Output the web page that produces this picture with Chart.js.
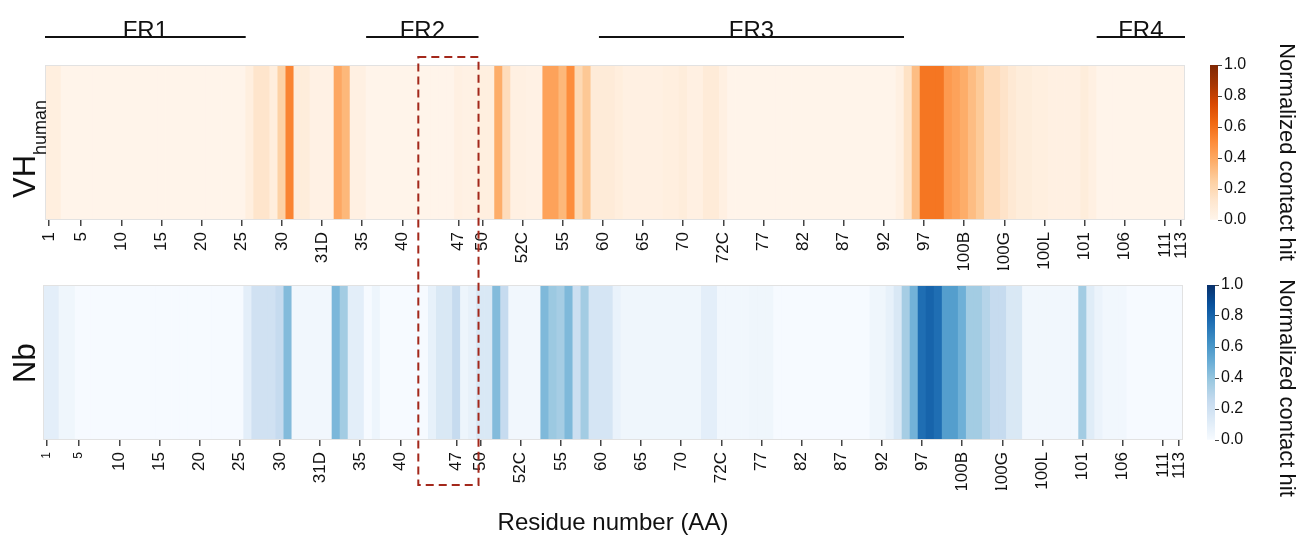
<!DOCTYPE html>
<html>
<head>
<meta charset="utf-8">
<script src="https://cdn.jsdelivr.net/npm/chart.js@4.4.0/dist/chart.umd.min.js"></script>
<style>
  body { margin: 0; background: #fff; }
  #page { position: relative; width: 1300px; height: 542px; overflow: hidden; background: #fff; }
  #page canvas, #page svg { position: absolute; }
  svg text { font-family: "Liberation Sans", Arial, sans-serif; fill: #111; }
</style>
</head>
<body>
<div id="page">
  <canvas id="vhChart" width="1215" height="280" style="left:0;top:0"></canvas>
  <canvas id="nbChart" width="1213" height="230" style="left:0;top:270px"></canvas>
  <canvas id="vhBar" width="75" height="240" style="left:1200px;top:0"></canvas>
  <canvas id="nbBar" width="75" height="190" style="left:1197px;top:270px"></canvas>
  <svg id="overlay" width="1300" height="542" style="left:0;top:0">
    <g id="frGroup"></g>
    <rect id="box" fill="none" stroke="#a3281b" stroke-width="2" stroke-dasharray="8,5"></rect>
    <text transform="translate(35,198) rotate(-90)" font-size="31">VH<tspan font-size="18" dy="11">human</tspan></text>
    <text transform="translate(35,383) rotate(-90)" font-size="31">Nb</text>
    <text x="613" y="530" font-size="24" text-anchor="middle">Residue number (AA)</text>
    <text transform="translate(1280,152) rotate(90)" font-size="22" text-anchor="middle">Normalized contact hit</text>
    <text transform="translate(1280,388) rotate(90)" font-size="22" text-anchor="middle">Normalized contact hit</text>
  </svg>
</div>
<script>
// residue numbering along the x axis
const residues = [
  '1','2','3','4','5','6','7','8','9','10',
  '11','12','13','14','15','16','17','18','19','20',
  '21','22','23','24','25','26','27','28','29','30',
  '31','31A','31B','31C','31D','31E','32','33','34','35',
  '36','37','38','39','40','41','42','43','44','45',
  '46','47','48','49','50','51','52','52A','52B','52C',
  '52D','53','53A','54','55','56','57','58','59','60',
  '61','62','63','64','65','66','67','68','69','70',
  '71','72','72A','72B','72C','73','74','75','76','77',
  '78','79','80','81','82','83','84','85','86','87',
  '88','89','90','91','92','93','94','95','96','97',
  '98','99','100','100A','100B','100C','100D','100E','100F','100G',
  '100H','100I','100J','100K','100L','100M','100N','100O','100P','101',
  '102','103','104','105','106','107','108','109','110','111',
  '112','113'
];

const tickLabels = ['1','5','10','15','20','25','30','31D','35','40','47','50','52C','55','60',
  '65','70','72C','77','82','87','92','97','100B','100G','100L','101','106','111','113'];
const smallTicksNb = ['1', '5'];

// normalized contact hit per residue
const vhHuman = [
  0.05,0.05,0.005,0.005,0.005,0.005,0.005,0.005,0.005,0.005,
  0.005,0.005,0.005,0.005,0.005,0.005,0.005,0.005,0.005,0.005,
  0.005,0.005,0.005,0.005,0.005,0.05,0.13,0.13,0.06,0.24,
  0.53,0.07,0.07,0.03,0.03,0.03,0.40,0.34,0.04,0.04,
  0.005,0.005,0.005,0.005,0.005,0.005,0.005,0.005,0.005,0.005,
  0.005,0.04,0.03,0.03,0.05,0.05,0.38,0.18,0.04,0.04,
  0.03,0.03,0.42,0.42,0.34,0.50,0.20,0.28,0.08,0.08,
  0.08,0.06,0.04,0.04,0.04,0.04,0.04,0.05,0.05,0.07,
  0.04,0.04,0.08,0.08,0.04,0.005,0.005,0.005,0.005,0.005,
  0.005,0.005,0.005,0.005,0.005,0.005,0.005,0.005,0.005,0.005,
  0.005,0.005,0.005,0.005,0.005,0.005,0.04,0.15,0.32,0.58,
  0.58,0.58,0.45,0.42,0.38,0.32,0.27,0.18,0.18,0.14,
  0.10,0.07,0.07,0.05,0.05,0.04,0.04,0.04,0.04,0.07,
  0.04,0.005,0.005,0.005,0.005,0.005,0.005,0.005,0.005,0.005,
  0.005,0.005
];

const nb = [
  0.10,0.10,0.04,0.04,0.005,0.005,0.005,0.005,0.005,0.005,
  0.005,0.005,0.005,0.005,0.005,0.005,0.005,0.005,0.005,0.005,
  0.005,0.005,0.005,0.005,0.005,0.10,0.20,0.20,0.20,0.25,
  0.44,0.03,0.03,0.03,0.03,0.03,0.46,0.36,0.10,0.10,
  0.005,0.05,0.005,0.005,0.005,0.005,0.005,0.005,0.08,0.15,
  0.15,0.25,0.05,0.08,0.15,0.15,0.44,0.25,0.03,0.03,
  0.03,0.03,0.45,0.38,0.35,0.45,0.22,0.36,0.17,0.17,
  0.17,0.07,0.04,0.04,0.04,0.04,0.04,0.04,0.04,0.04,
  0.04,0.04,0.10,0.10,0.03,0.03,0.03,0.03,0.04,0.04,
  0.04,0.005,0.005,0.005,0.005,0.005,0.005,0.005,0.005,0.005,
  0.005,0.005,0.005,0.04,0.04,0.08,0.15,0.35,0.48,0.76,
  0.80,0.76,0.57,0.57,0.49,0.36,0.36,0.30,0.25,0.25,
  0.15,0.15,0.03,0.03,0.03,0.03,0.03,0.03,0.03,0.36,
  0.12,0.06,0.03,0.03,0.03,0.005,0.005,0.005,0.005,0.005,
  0.005,0.005
];

const colorbarTicks = [0, 0.2, 0.4, 0.6, 0.8, 1.0];

// framework regions and highlighted stretch (residue labels)
const frNames = ['FR1', 'FR2', 'FR3', 'FR4'];
const frStart = ['1', '36', '60', '103'];
const frEnd = ['25', '49', '94', '113'];
const boxResidues = ['42', '49'];

const orangeStops = ['#fff5eb','#fee6ce','#fdd0a2','#fdae6b','#fd8d3c','#f16913','#d94801','#a63603','#7f2704'];
const blueStops = ['#f7fbff','#deebf7','#c6dbef','#9ecae1','#6baed6','#4292c6','#2171b5','#08519c','#08306b'];

function hexToRgb(h) {
  return [parseInt(h.slice(1, 3), 16), parseInt(h.slice(3, 5), 16), parseInt(h.slice(5, 7), 16)];
}

function colormap(stops, v) {
  const t = Math.max(0, Math.min(1, v)) * (stops.length - 1);
  const i = Math.min(Math.floor(t), stops.length - 2);
  const f = t - i;
  const a = hexToRgb(stops[i]), b = hexToRgb(stops[i + 1]);
  const c = a.map((x, k) => Math.round(x + (b[k] - x) * f));
  return 'rgb(' + c.join(',') + ')';
}

const framePlugin = {
  id: 'frame',
  afterDatasetsDraw(chart) {
    const a = chart.chartArea;
    const ctx = chart.ctx;
    ctx.save();
    ctx.strokeStyle = '#e2e2e2';
    ctx.lineWidth = 1;
    ctx.strokeRect(a.left + 0.5, a.top + 0.5, a.right - a.left - 1, a.bottom - a.top - 1);
    ctx.restore();
  }
};

function heatmap(id, values, stops, padLeft, padTop, smallTicks) {
  return new Chart(document.getElementById(id), {
    type: 'bar',
    data: {
      labels: residues,
      datasets: [{
        data: residues.map(() => 1),
        backgroundColor: values.map(v => colormap(stops, v)),
        borderWidth: 0,
        barPercentage: 1,
        categoryPercentage: 1
      }]
    },
    options: {
      responsive: false,
      animation: false,
      layout: { padding: { left: padLeft, top: padTop, right: 30, bottom: 10 } },
      plugins: { legend: { display: false }, tooltip: { enabled: false } },
      scales: {
        x: {
          grid: { display: true, drawOnChartArea: false, offset: false, tickLength: 6, color: '#444', lineWidth: 1.5 },
          border: { display: false },
          ticks: {
            autoSkip: false,
            minRotation: 90,
            maxRotation: 90,
            padding: 6,
            color: '#111',
            font: ctx => ({
              family: '"Liberation Sans", Arial, sans-serif',
              size: (ctx.tick && smallTicks.includes(ctx.tick.label)) ? 12 : 17
            }),
            callback: function (value) {
              const lab = this.getLabelForValue(value);
              return tickLabels.includes(lab) ? lab : null;
            }
          },
          afterFit: s => { s.height = 50; }
        },
        y: { display: false, min: 0, max: 1 }
      }
    },
    plugins: [framePlugin]
  });
}

function colorbar(id, stops, padTop) {
  return new Chart(document.getElementById(id), {
    type: 'bar',
    data: {
      labels: [''],
      datasets: [{
        data: [[0, 1]],
        borderWidth: 0,
        barPercentage: 1,
        categoryPercentage: 1,
        backgroundColor: ctx => {
          const area = ctx.chart.chartArea;
          if (!area) return stops[0];
          const g = ctx.chart.ctx.createLinearGradient(0, area.bottom, 0, area.top);
          stops.forEach((c, i) => g.addColorStop(i / (stops.length - 1), c));
          return g;
        }
      }]
    },
    options: {
      responsive: false,
      animation: false,
      layout: { padding: { left: 10, right: 12, top: padTop, bottom: 20 } },
      plugins: { legend: { display: false }, tooltip: { enabled: false } },
      scales: {
        x: { display: false },
        y: {
          position: 'right',
          min: 0,
          max: 1,
          afterBuildTicks: s => { s.ticks = colorbarTicks.map(v => ({ value: v })); },
          grid: { drawOnChartArea: false, tickLength: 4, color: '#444' },
          border: { display: false },
          ticks: {
            padding: 2,
            color: '#111',
            font: { family: '"Liberation Sans", Arial, sans-serif', size: 16 },
            callback: v => v.toFixed(1)
          },
          afterFit: s => { s.width = 45; }
        }
      }
    }
  });
}

const vhChart = heatmap('vhChart', vhHuman, orangeStops, 45, 65, []);
const nbChart = heatmap('nbChart', nb, blueStops, 43, 15, smallTicksNb);
colorbar('vhBar', orangeStops, 65);
colorbar('nbBar', blueStops, 15);

// annotations placed from the top chart's residue scale
const xs = vhChart.scales.x;
const half = (xs.getPixelForValue(1) - xs.getPixelForValue(0)) / 2;
const px = lab => xs.getPixelForValue(residues.indexOf(lab));
const svgNS = 'http://www.w3.org/2000/svg';
const frGroup = document.getElementById('frGroup');
frNames.forEach((name, i) => {
  const x1 = px(frStart[i]) - half;
  const x2 = px(frEnd[i]) + half;
  const line = document.createElementNS(svgNS, 'line');
  line.setAttribute('x1', x1); line.setAttribute('x2', x2);
  line.setAttribute('y1', 37); line.setAttribute('y2', 37);
  line.setAttribute('stroke', '#111'); line.setAttribute('stroke-width', 2);
  frGroup.appendChild(line);
  const t = document.createElementNS(svgNS, 'text');
  t.setAttribute('x', (x1 + x2) / 2); t.setAttribute('y', 38);
  t.setAttribute('font-size', 24); t.setAttribute('text-anchor', 'middle');
  t.textContent = name;
  frGroup.appendChild(t);
});
const box = document.getElementById('box');
const bx1 = px(boxResidues[0]);
const bx2 = px(boxResidues[1]) + half;
box.setAttribute('x', bx1); box.setAttribute('width', bx2 - bx1);
box.setAttribute('y', 57); box.setAttribute('height', 428);
</script>
</body>
</html>
